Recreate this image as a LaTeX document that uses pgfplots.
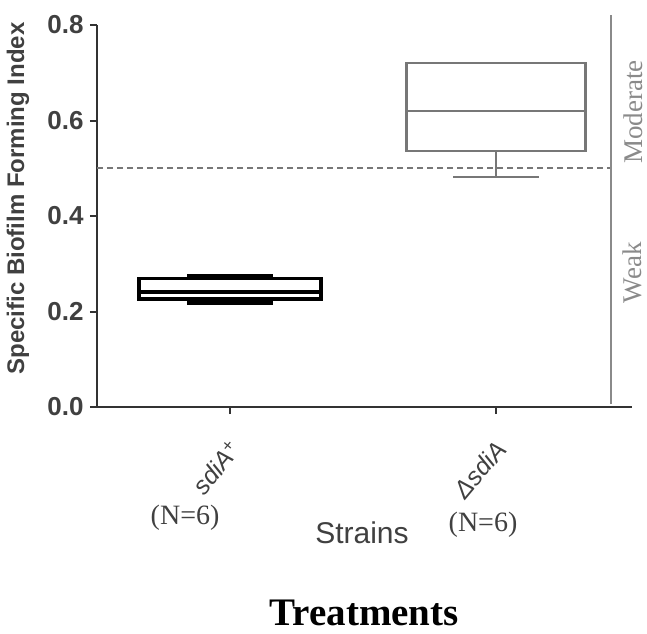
\documentclass[border=0pt]{standalone}
\usepackage{fontspec}
\setmainfont{Liberation Serif}
\setsansfont{Liberation Sans}
\usepackage{pgfplots}
\pgfplotsset{compat=1.18}
\usepgfplotslibrary{statistics}
\definecolor{axcol}{HTML}{333333}
\definecolor{boxgray}{HTML}{777777}
\definecolor{refgray}{HTML}{8A8A8A}
\definecolor{dashgray}{HTML}{777777}
\definecolor{txtgray}{HTML}{404040}
\begin{document}
\begin{tikzpicture}
\useasboundingbox (-97pt,-226pt) rectangle (550pt,407pt);
\begin{axis}[
  at={(0pt,0pt)}, anchor=south west,
  scale only axis, width=535pt, height=382pt,
  xmin=0.5, xmax=2.511, ymin=0, ymax=0.8,
  clip=false,
  axis x line=bottom, axis y line=left,
  axis line style={-, line width=2.5pt, color=axcol},
  tick align=outside, major tick length=7pt,
  tick style={line width=2pt, color=axcol},
  ytick={0,0.2,0.4,0.6,0.8},
  /pgf/number format/assume math mode=true,
  yticklabel style={/pgf/number format/fixed, /pgf/number format/fixed zerofill,
    /pgf/number format/precision=1,
    font=\sffamily\bfseries\fontsize{26}{26}\selectfont, text=txtgray, xshift=-3pt},
  xtick={1,2},
  xticklabels={{\textit{sdiA}\textsuperscript{+}}, {\textit{ΔsdiA}}},
  xticklabel style={font=\sffamily\fontsize{25}{25}\selectfont, text=txtgray,
    rotate=50, anchor=north east, inner sep=1pt, xshift=-19pt, yshift=-13pt},
  ylabel={Specific Biofilm Forming Index},
  ylabel style={font=\sffamily\bfseries\fontsize{24}{24}\selectfont, text=txtgray,
    at={(axis description cs:-0.1477,0.546)}, anchor=center},
  boxplot/draw direction=y,
]
\addplot[boxplot prepared={draw position=1, lower whisker=0.217, lower quartile=0.226,
  median=0.241, upper quartile=0.269, upper whisker=0.275,
  box extend=0.684, whisker extend=0.323}, draw=black, line width=3.8pt, solid]
  coordinates {};
\addplot[boxplot prepared={draw position=2, lower whisker=0.482, lower quartile=0.536,
  median=0.620, upper quartile=0.720, upper whisker=0.720,
  box extend=0.673, whisker extend=0.32}, draw=boxgray, line width=2.5pt, solid]
  coordinates {};
\addplot[dashgray, line width=2.4pt, dash pattern=on 6pt off 4pt] coordinates {(0.5,0.5) (2.432,0.5)};
\addplot[refgray, line width=2pt] coordinates {(2.432,0.006) (2.432,0.821)};
\node[font=\fontsize{28}{28}\selectfont, text=txtgray] at (axis cs:0.831,-0.232) {(N=6)};
\node[font=\fontsize{28}{28}\selectfont, text=txtgray] at (axis cs:1.951,-0.247) {(N=6)};
\node[font=\sffamily\fontsize{30}{30}\selectfont, text=txtgray] at (axis cs:1.496,-0.264) {Strains};
\node[font=\bfseries\fontsize{39}{39}\selectfont, text=black] at (axis cs:1.504,-0.431) {Treatments};
\node[rotate=90, inner sep=0pt, font=\fontsize{27}{27}\selectfont, text=refgray] at (axis cs:2.514,0.618) {Moderate};
\node[rotate=90, inner sep=0pt, font=\fontsize{27}{27}\selectfont, text=refgray] at (axis cs:2.514,0.281) {Weak};
\end{axis}
\end{tikzpicture}
\end{document}
